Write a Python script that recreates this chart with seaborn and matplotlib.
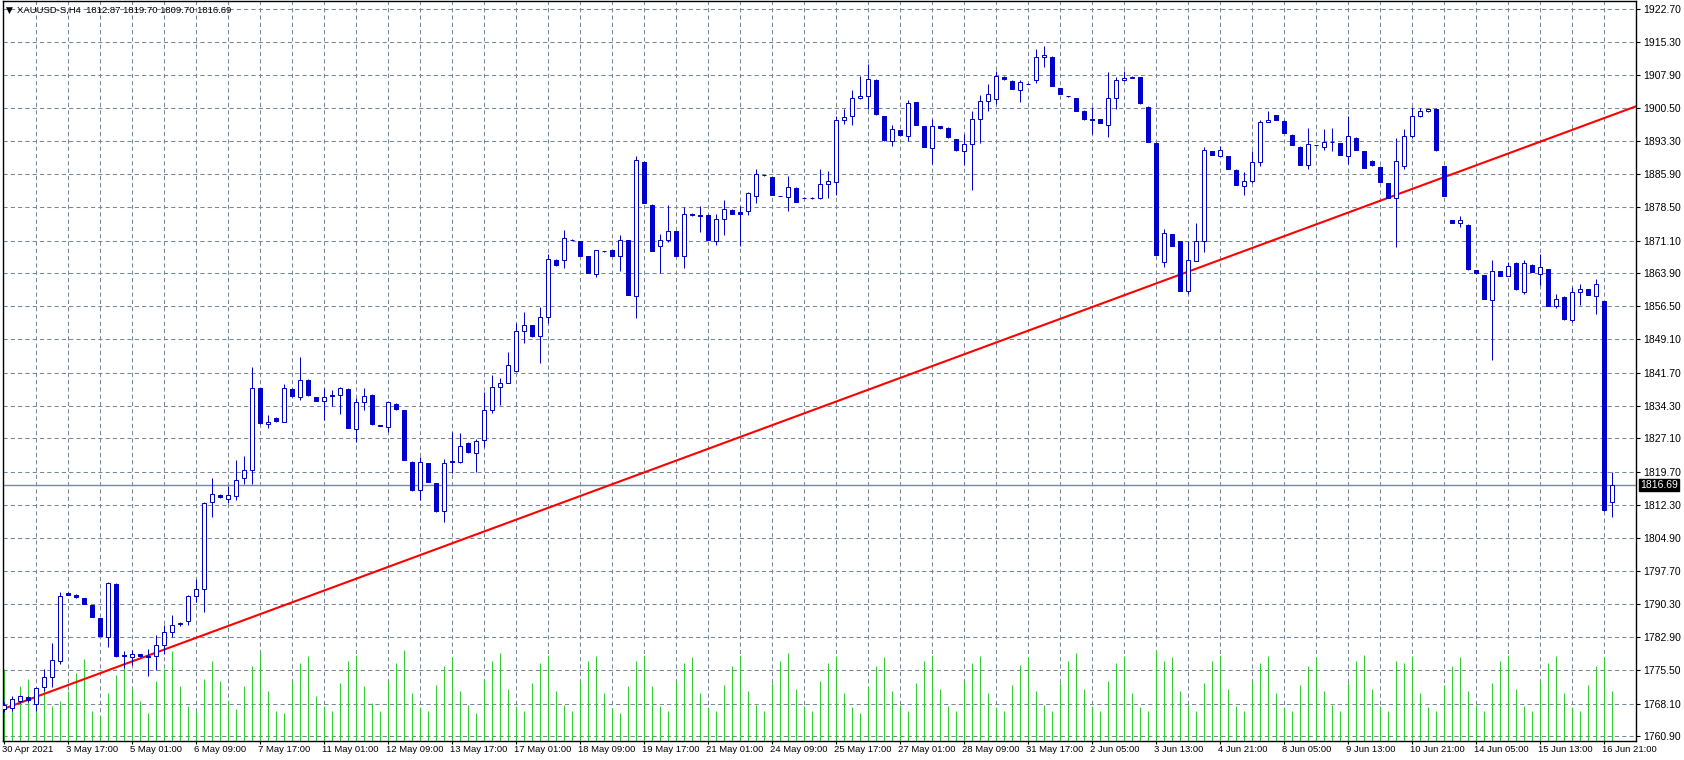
import numpy as np
import pandas as pd
import seaborn as sns
import matplotlib.pyplot as plt
from matplotlib.transforms import blended_transform_factory, ScaledTranslation

sns.set_style("white")
plt.rcParams['font.family'] = ['Liberation Sans', 'DejaVu Sans']

# H4 bars (oldest first)
opens = [
    1767.0, 1767.2, 1768.6, 1769.5, 1768.0, 1771.7, 1774.0, 1777.6, 1792.8, 1792.2,
    1791.5, 1790.0, 1787.1, 1783.0, 1794.8, 1778.9, 1778.4, 1779.1, 1778.7, 1778.6,
    1781.2, 1784.1, 1785.8, 1786.5, 1792.0, 1793.5, 1812.9, 1814.6, 1813.6, 1814.3,
    1818.3, 1820.1, 1838.3, 1830.2, 1831.7, 1830.8, 1838.1, 1836.3, 1840.1, 1836.3,
    1835.4, 1836.8, 1836.8, 1838.1, 1829.2, 1835.2, 1836.8, 1830.0, 1829.7, 1834.8,
    1833.3, 1821.9, 1815.6, 1821.6, 1817.1, 1811.0, 1822.1, 1821.8, 1826.1, 1823.9,
    1826.8, 1833.5, 1838.6, 1839.5, 1842.0, 1851.0, 1852.2, 1849.8, 1854.1, 1866.8,
    1866.8, 1871.3, 1870.9, 1867.6, 1863.7, 1868.7, 1869.0, 1867.6, 1871.2, 1858.7,
    1888.6, 1879.1, 1869.8, 1871.3, 1873.2, 1867.7, 1877.0, 1876.8, 1876.8, 1871.1,
    1875.8, 1877.9, 1877.4, 1877.6, 1880.9, 1885.6, 1885.2, 1881.0, 1880.7, 1882.8,
    1880.6, 1880.5, 1880.5, 1883.6, 1884.1, 1898.0, 1898.8, 1902.8, 1903.2, 1906.9,
    1898.8, 1893.3, 1895.6, 1894.4, 1901.8, 1896.5, 1891.7, 1896.5, 1896.2, 1893.6,
    1891.0, 1892.6, 1898.2, 1902.2, 1902.5, 1907.5, 1906.6, 1904.6, 1906.0, 1906.8,
    1912.0, 1912.0, 1905.0, 1903.2, 1902.8, 1900.0, 1898.2, 1898.1, 1896.9, 1902.9,
    1906.7, 1907.3, 1907.4, 1900.9, 1892.8, 1866.4, 1872.5, 1870.9, 1859.8, 1866.6,
    1871.0, 1891.0, 1890.0, 1889.9, 1886.8, 1883.3, 1884.3, 1888.5, 1897.5, 1899.0,
    1897.7, 1894.6, 1892.0, 1887.8, 1892.3, 1892.0, 1892.9, 1892.7, 1889.8, 1894.0,
    1891.0, 1888.8, 1887.5, 1883.9, 1880.5, 1887.6, 1894.3, 1898.8, 1899.9, 1900.3,
    1887.6, 1875.6, 1874.9, 1874.6, 1864.5, 1863.4, 1857.9, 1864.3, 1863.2, 1866.2,
    1859.7, 1865.7, 1863.6, 1864.7, 1856.5, 1858.6, 1853.4, 1859.7, 1860.3, 1858.8,
    1857.6, 1812.87,
]
highs = [
    1768.5, 1769.8, 1770.0, 1769.8, 1771.8, 1775.7, 1781.5, 1793.0, 1792.9, 1792.4,
    1791.6, 1790.1, 1787.2, 1795.1, 1794.9, 1779.8, 1780.0, 1779.2, 1780.2, 1783.3,
    1785.6, 1787.9, 1786.2, 1792.3, 1795.8, 1813.0, 1818.2, 1814.8, 1816.6, 1822.2,
    1823.1, 1843.0, 1838.4, 1832.2, 1831.8, 1839.1, 1838.2, 1845.2, 1840.2, 1836.4,
    1838.3, 1837.9, 1838.6, 1838.2, 1836.1, 1838.2, 1836.9, 1830.1, 1835.3, 1834.9,
    1833.4, 1822.0, 1823.0, 1821.7, 1817.2, 1822.4, 1828.6, 1828.3, 1826.2, 1826.9,
    1837.4, 1841.1, 1840.6, 1846.4, 1852.8, 1855.2, 1852.3, 1856.3, 1868.2, 1866.9,
    1873.5, 1871.4, 1871.1, 1867.7, 1869.0, 1868.8, 1869.1, 1872.3, 1871.3, 1889.8,
    1888.7, 1879.2, 1872.5, 1879.0, 1873.3, 1878.5, 1877.2, 1878.8, 1876.9, 1877.0,
    1880.1, 1878.0, 1878.8, 1881.8, 1887.0, 1885.7, 1885.3, 1881.1, 1885.5, 1882.9,
    1880.7, 1880.7, 1887.1, 1886.6, 1898.8, 1900.3, 1904.5, 1907.8, 1910.3, 1907.0,
    1898.9, 1896.9, 1895.7, 1902.3, 1901.9, 1896.6, 1898.2, 1896.6, 1896.3, 1893.7,
    1894.7, 1900.0, 1903.4, 1905.8, 1908.7, 1907.6, 1906.7, 1906.7, 1906.1, 1913.8,
    1914.4, 1912.1, 1905.1, 1903.3, 1902.9, 1900.1, 1900.7, 1898.2, 1908.5, 1907.4,
    1908.9, 1907.6, 1907.5, 1901.0, 1892.9, 1873.6, 1872.6, 1871.0, 1871.1, 1875.0,
    1891.8, 1891.1, 1892.2, 1890.0, 1886.9, 1886.3, 1891.0, 1897.8, 1899.8, 1899.1,
    1897.8, 1894.7, 1892.1, 1896.1, 1892.4, 1895.9, 1896.1, 1892.8, 1898.9, 1894.1,
    1891.1, 1888.9, 1887.6, 1884.0, 1893.8, 1895.9, 1900.7, 1900.6, 1900.4, 1900.5,
    1887.7, 1875.7, 1876.5, 1874.7, 1864.6, 1863.5, 1866.7, 1864.4, 1866.4, 1866.3,
    1866.7, 1865.8, 1868.2, 1864.8, 1859.3, 1858.7, 1860.8, 1861.4, 1860.4, 1862.5,
    1857.7, 1819.70,
]
lows = [
    1766.2, 1766.5, 1768.2, 1768.5, 1766.5, 1771.0, 1771.7, 1776.9, 1792.2, 1791.6,
    1790.2, 1787.3, 1783.1, 1780.7, 1778.5, 1776.1, 1776.7, 1778.5, 1774.3, 1775.6,
    1779.2, 1782.9, 1785.4, 1785.6, 1790.6, 1788.4, 1809.6, 1813.9, 1812.7, 1813.3,
    1817.0, 1817.0, 1830.4, 1829.3, 1830.8, 1830.7, 1836.4, 1835.6, 1836.6, 1835.3,
    1831.2, 1834.2, 1832.5, 1829.3, 1826.2, 1833.4, 1830.1, 1829.8, 1828.5, 1833.5,
    1822.2, 1815.5, 1813.5, 1817.3, 1810.8, 1808.6, 1819.4, 1821.6, 1823.9, 1819.7,
    1825.1, 1832.8, 1834.5, 1839.4, 1841.9, 1848.3, 1849.7, 1843.9, 1852.8, 1865.5,
    1865.0, 1871.2, 1867.6, 1863.8, 1863.0, 1868.6, 1867.6, 1864.4, 1858.9, 1853.8,
    1879.4, 1868.7, 1863.8, 1870.7, 1867.6, 1865.0, 1876.6, 1873.1, 1871.2, 1870.2,
    1872.4, 1877.0, 1869.9, 1876.8, 1879.4, 1885.5, 1881.2, 1880.9, 1877.7, 1879.6,
    1880.5, 1880.3, 1880.4, 1880.5, 1881.2, 1897.1, 1896.8, 1902.5, 1900.3, 1899.1,
    1893.3, 1892.2, 1894.4, 1893.3, 1896.7, 1891.8, 1888.2, 1896.0, 1894.0, 1891.1,
    1887.9, 1882.3, 1892.7, 1899.9, 1901.4, 1906.9, 1904.7, 1902.0, 1905.9, 1906.2,
    1909.7, 1905.4, 1903.6, 1903.1, 1899.9, 1898.0, 1894.8, 1897.2, 1894.2, 1900.3,
    1906.6, 1907.2, 1901.5, 1893.0, 1867.8, 1865.3, 1869.8, 1859.8, 1859.3, 1866.5,
    1868.6, 1890.1, 1889.9, 1887.0, 1883.4, 1881.3, 1883.8, 1887.6, 1897.4, 1897.9,
    1895.0, 1892.3, 1887.9, 1886.9, 1892.2, 1891.3, 1891.1, 1890.1, 1888.1, 1891.2,
    1887.2, 1887.7, 1884.1, 1880.5, 1869.7, 1887.0, 1893.8, 1898.5, 1899.7, 1891.1,
    1881.0, 1874.9, 1874.0, 1864.6, 1863.7, 1858.0, 1844.6, 1863.1, 1863.1, 1860.2,
    1859.3, 1864.0, 1861.2, 1856.5, 1856.0, 1853.5, 1853.0, 1856.8, 1858.9, 1854.7,
    1811.0, 1809.70,
]
closes = [
    1767.8, 1769.2, 1769.7, 1768.8, 1771.6, 1774.1, 1777.7, 1792.1, 1792.3, 1791.8,
    1790.3, 1787.4, 1783.2, 1795.0, 1778.7, 1778.7, 1779.2, 1778.6, 1778.5, 1781.2,
    1784.1, 1785.7, 1786.0, 1792.1, 1793.5, 1812.8, 1814.7, 1814.1, 1814.5, 1817.9,
    1820.1, 1838.3, 1830.5, 1830.7, 1830.9, 1838.3, 1836.5, 1840.1, 1836.7, 1835.4,
    1836.3, 1836.5, 1838.3, 1829.4, 1835.2, 1836.5, 1830.2, 1829.9, 1835.2, 1833.6,
    1822.3, 1815.6, 1821.9, 1817.4, 1811.0, 1821.6, 1821.8, 1825.4, 1824.0, 1826.5,
    1833.5, 1838.6, 1839.5, 1843.5, 1851.0, 1852.3, 1849.8, 1854.1, 1867.0, 1865.6,
    1871.7, 1871.3, 1867.7, 1863.9, 1868.9, 1868.7, 1867.7, 1871.3, 1859.0, 1888.9,
    1879.5, 1868.8, 1871.3, 1873.3, 1867.7, 1877.1, 1876.8, 1876.6, 1871.3, 1875.8,
    1878.0, 1877.1, 1877.1, 1881.6, 1885.8, 1885.6, 1881.3, 1881.0, 1882.9, 1879.7,
    1880.6, 1880.5, 1883.6, 1884.4, 1898.0, 1898.6, 1902.8, 1903.3, 1907.1, 1899.2,
    1893.4, 1896.0, 1894.5, 1901.7, 1896.8, 1891.9, 1896.6, 1896.1, 1894.1, 1891.2,
    1892.6, 1898.2, 1902.2, 1903.7, 1907.7, 1907.0, 1904.8, 1906.3, 1906.0, 1912.0,
    1912.4, 1905.5, 1903.7, 1903.2, 1900.0, 1898.1, 1898.0, 1897.3, 1902.9, 1906.7,
    1907.2, 1907.4, 1901.6, 1893.1, 1867.9, 1872.7, 1869.9, 1859.9, 1866.7, 1871.0,
    1891.2, 1890.2, 1891.2, 1887.1, 1883.5, 1884.3, 1888.5, 1897.4, 1898.0, 1898.0,
    1895.1, 1892.4, 1888.0, 1892.5, 1892.3, 1892.9, 1893.0, 1890.2, 1894.3, 1891.3,
    1887.3, 1887.8, 1884.2, 1880.6, 1888.7, 1894.3, 1898.8, 1899.9, 1900.3, 1891.2,
    1881.1, 1875.0, 1875.6, 1864.7, 1863.8, 1858.1, 1864.4, 1863.2, 1865.5, 1860.3,
    1866.0, 1864.1, 1865.2, 1856.6, 1858.1, 1853.6, 1859.7, 1860.4, 1859.0, 1861.5,
    1811.1, 1816.69,
]
# tick volume per bar (approximate)
volumes = [
    7200, 4000, 5500, 6200, 4500, 5800, 3500, 4000, 5000, 6800,
    8200, 3000, 2500, 4800, 6600, 8400, 5200, 4000, 2800, 6000,
    7200, 9000, 5500, 3500, 3000, 6200, 8000, 6000, 4000, 3200,
    5500, 7500, 8800, 5000, 3000, 2800, 6000, 7800, 8500, 4500,
    3500, 3000, 5800, 8000, 8600, 5500, 3800, 3000, 6000, 7800,
    9100, 4800, 3400, 3000, 5600, 7500, 8400, 5000, 3600, 2800,
    6200, 8000, 8800, 5200, 3500, 3000, 5800, 7800, 8600, 5000,
    3600, 3000, 6000, 8000, 8500, 4800, 3300, 2800, 5500, 8000,
    8600, 5500, 3500, 3000, 6000, 7800, 8400, 4800, 3400, 3000,
    5600, 7500, 8600, 5000, 3600, 3000, 5800, 8000, 8800, 5200,
    3500, 3000, 6000, 7800, 8500, 4800, 3400, 2800, 5500, 7500,
    8400, 5000, 3600, 3000, 5800, 8000, 8600, 5200, 3500, 3000,
    6000, 7800, 8500, 4800, 3400, 3000, 5600, 7600, 8400, 5000,
    3600, 3000, 5800, 8000, 8800, 5200, 3500, 3000, 6000, 7800,
    8500, 4800, 3400, 3000, 9100, 8000, 8400, 5000, 3600, 3000,
    5800, 8000, 8600, 5200, 3500, 3000, 6000, 7800, 8500, 4800,
    3400, 3000, 5600, 7500, 8400, 5000, 3600, 3000, 5800, 8000,
    8600, 5200, 3500, 3000, 8000, 7800, 8500, 4800, 3400, 3000,
    5600, 7500, 8400, 5000, 3600, 3000, 5800, 8000, 8600, 5200,
    3500, 3000, 6000, 7800, 8500, 4800, 3400, 3000, 5600, 7500,
    8400, 5000,
]

date_labels = [
    "30 Apr 2021", "3 May 17:00", "5 May 01:00", "6 May 09:00", "7 May 17:00",
    "11 May 01:00", "12 May 09:00", "13 May 17:00", "17 May 01:00", "18 May 09:00",
    "19 May 17:00", "21 May 01:00", "24 May 09:00", "25 May 17:00", "27 May 01:00",
    "28 May 09:00", "31 May 17:00", "2 Jun 05:00", "3 Jun 13:00", "4 Jun 21:00",
    "8 Jun 05:00", "9 Jun 13:00", "10 Jun 21:00", "14 Jun 05:00", "15 Jun 13:00",
    "16 Jun 21:00",
]
price_ticks = [
    1922.70, 1915.30, 1907.90, 1900.50, 1893.30, 1885.90, 1878.50, 1871.10,
    1863.90, 1856.50, 1849.10, 1841.70, 1834.30, 1827.10, 1819.70, 1812.30,
    1804.90, 1797.70, 1790.30, 1782.90, 1775.50, 1768.10, 1760.90,
]
trend_bars = [0, 201]
trend_prices = [1767.0, 1899.0]
last_price = 1816.69
symbol_text = "XAUUSD-S,H4  1812.87 1819.70 1809.70 1816.69"

df = pd.DataFrame({"open": opens, "high": highs, "low": lows,
                   "close": closes, "volume": volumes})
df["bar"] = np.arange(len(df))
up = df["close"] >= df["open"]

blue = "#0000CD"
grid_c = "#778899"
px = 0.72

fig = plt.figure(figsize=(16.84, 7.60), dpi=100)
ax = fig.add_axes([3 / 1684, 19 / 760, 1633 / 1684, 740 / 760])
ymin, ymax = 1759.79, 1924.37
ax.set_xlim(-0.1625, 203.96)
ax.set_ylim(ymin, ymax)

# grid
for p in price_ticks:
    ax.axhline(p, color=grid_c, lw=0.75, ls=(0, (4, 3)), zorder=0)
for b in range(4, 204, 4):
    ax.axvline(b, color=grid_c, lw=0.75, ls=(0, (4, 3)), zorder=0)

# volumes along the bottom
vol_scale = (ymax - ymin) / 740 / 100
ax.vlines(df["bar"], ymin, ymin + df["volume"] * vol_scale,
          color="#32CD32", lw=px, zorder=1)

# bid line
ax.axhline(last_price, color=grid_c, lw=1.0, zorder=1.5)

# trend line (ray to the right)
slope = (trend_prices[1] - trend_prices[0]) / (trend_bars[1] - trend_bars[0])
tx = np.array([-0.2, 204.0])
ty = trend_prices[0] + slope * (tx - trend_bars[0])
sns.lineplot(x=tx, y=ty, color="red", lw=1.5, ax=ax, zorder=2)

# candles
ax.vlines(df["bar"], df["low"], df["high"], color=blue, lw=px, zorder=3)
b_up = df[up]
b_dn = df[~up]
ax.bar(b_up["bar"], b_up["close"] - b_up["open"], bottom=b_up["open"], width=0.5,
       facecolor="white", edgecolor=blue, linewidth=px, zorder=4)
ax.bar(b_dn["bar"], b_dn["open"] - b_dn["close"], bottom=b_dn["close"], width=0.5,
       facecolor=blue, edgecolor=blue, linewidth=px, zorder=4)

# axes look
for s in ax.spines.values():
    s.set_color("black")
    s.set_linewidth(1.0)
ax.yaxis.tick_right()
ax.set_yticks(price_ticks)
ax.set_yticklabels([f"{p:.2f}" for p in price_ticks])
ax.set_xticks(np.arange(0, 201, 8))
ax.set_xticklabels(date_labels, ha="left")
ax.tick_params(axis="y", which="both", right=True, left=False, length=3,
               width=0.8, pad=2, labelsize=7.5, colors="black")
ax.tick_params(axis="x", which="both", bottom=True, length=2, width=0.8,
               pad=1, labelsize=6.8, colors="black")
shift = ScaledTranslation(-2 / 100, 0, fig.dpi_scale_trans)
for lab in ax.get_xticklabels():
    lab.set_transform(lab.get_transform() + shift)
ax.set_xlabel("")
ax.set_ylabel("")

# current price tag
trans = blended_transform_factory(ax.transAxes, ax.transData)
ax.text(1.0025, last_price, f"{last_price:.2f}", transform=trans, ha="left",
        va="center", color="white", fontsize=7.5, zorder=10, clip_on=False,
        bbox=dict(boxstyle="square,pad=0.12", fc="black", ec="black"))

# symbol header
fig.text(6 / 1684, 1 - 10 / 760, "\u25bc", fontsize=6.5, va="center", color="black",
         family=["DejaVu Sans"])
fig.text(17 / 1684, 1 - 10 / 760, symbol_text, fontsize=6.8, va="center", color="black")

fig.savefig("out.png", dpi=100, facecolor="white")
